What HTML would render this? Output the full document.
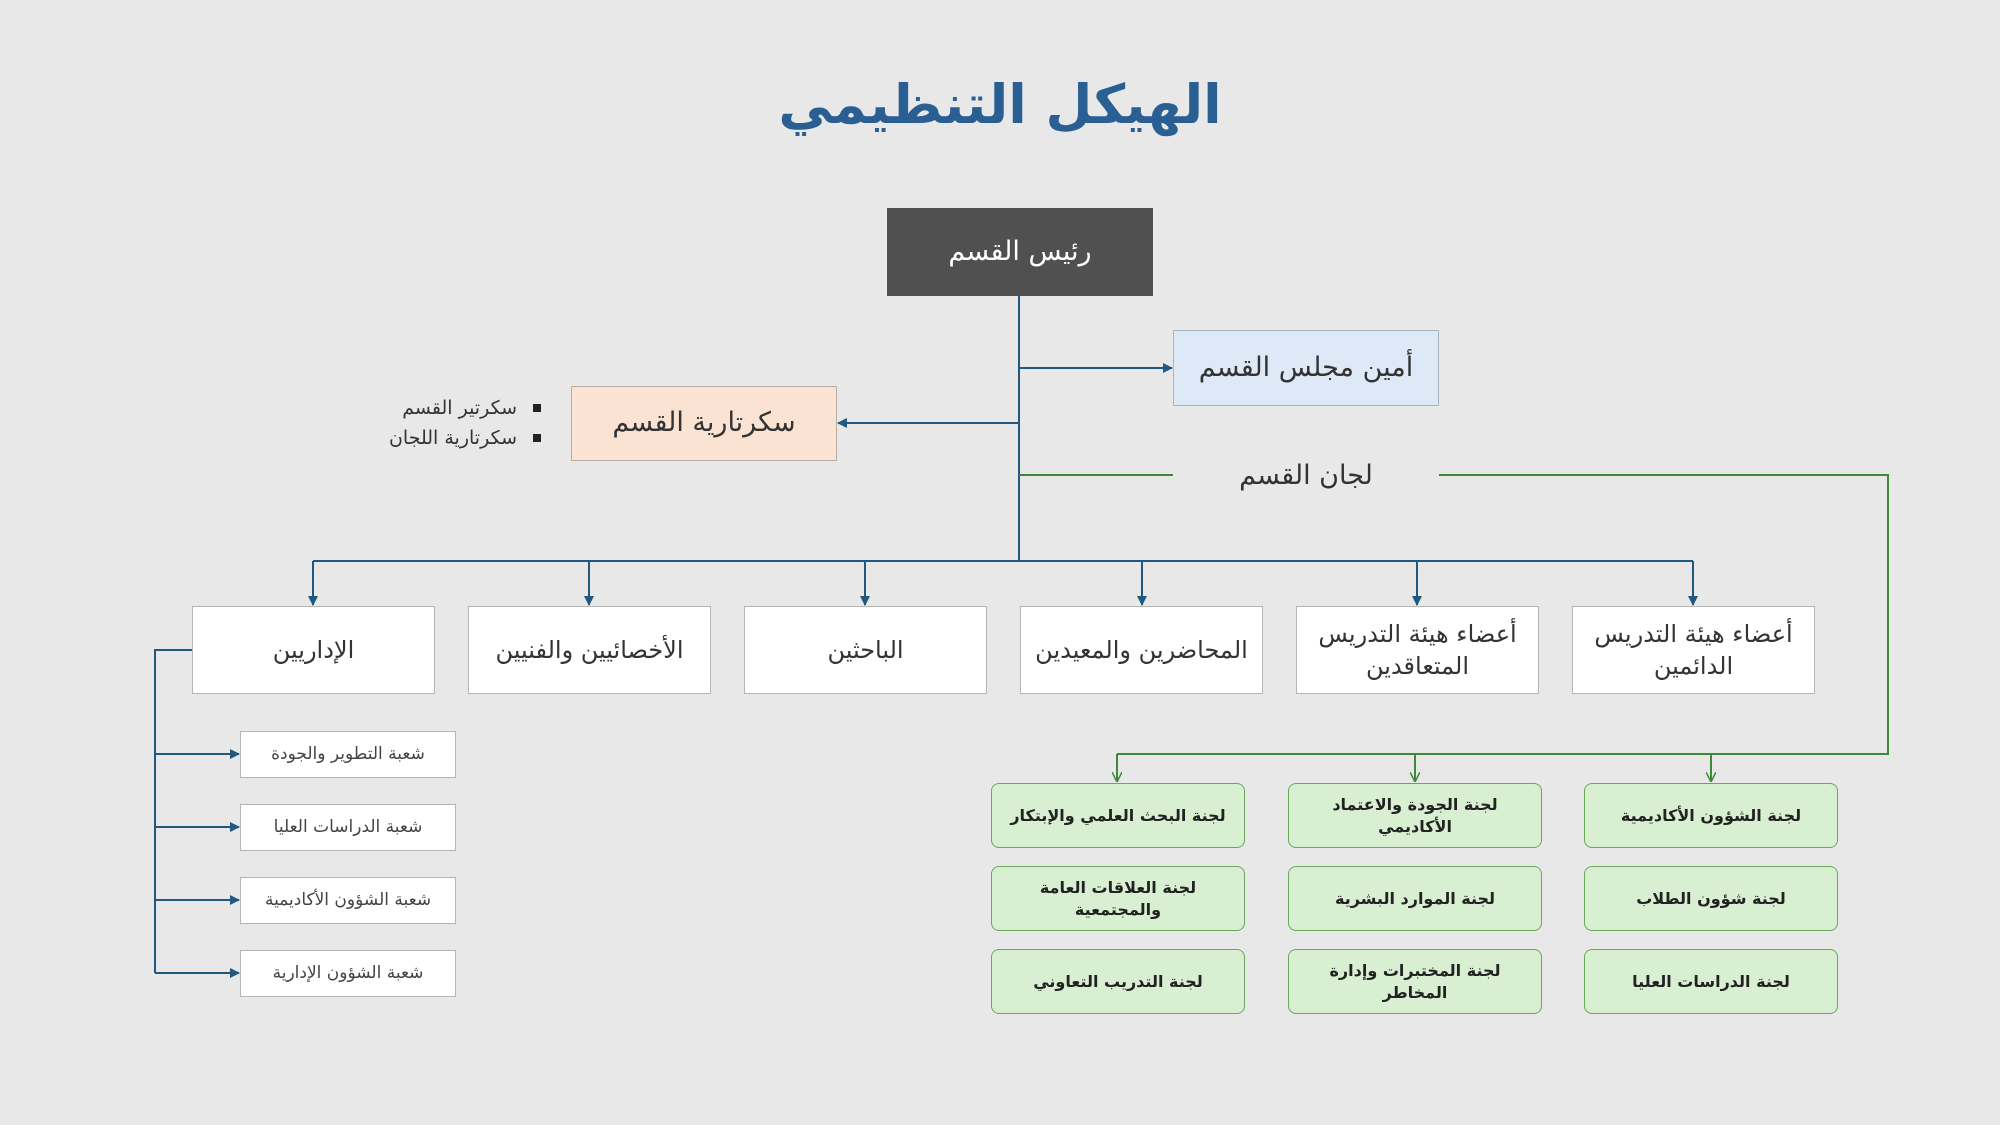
<!DOCTYPE html>
<html><head><meta charset="utf-8">
<style>
body{margin:0;width:2000px;height:1125px;background:#e8e8e8;position:relative;overflow:hidden;font-family:"DejaVu Sans","Liberation Sans",sans-serif;color:#333}
.b{position:absolute;display:flex;align-items:center;justify-content:center;text-align:center;box-sizing:border-box;direction:rtl;line-height:1.35}
.w{background:#fff;border:1.5px solid #b5b5b5;font-size:24px}
.s{background:#fff;border:1.5px solid #b5b5b5;font-size:17px;color:#444}
.g{background:#d9efd2;border:1.5px solid #6aa85a;border-radius:8px;font-size:16px;font-weight:bold;color:#222;padding:0 8px}
svg{position:absolute;left:0;top:0}
</style></head><body>
<div class="b" style="left:0;top:60px;width:2000px;height:90px;font-size:54px;font-weight:bold;color:#2a5f94">الهيكل التنظيمي</div>

<svg width="2000" height="1125">
<defs>
<marker id="ab" markerWidth="10" markerHeight="10" refX="9" refY="5" orient="auto" markerUnits="userSpaceOnUse"><path d="M0,0 L10,5 L0,10z" fill="#22587f"/></marker>
<marker id="ag" markerWidth="10" markerHeight="10" refX="9" refY="5" orient="auto" markerUnits="userSpaceOnUse"><path d="M0,0 L10,5 L0,10" fill="none" stroke="#3f8a3a" stroke-width="1.5"/></marker>
</defs>
<g stroke="#22587f" stroke-width="2" fill="none">
<line x1="1019" y1="296" x2="1019" y2="561"/>
<line x1="1019" y1="368" x2="1172" y2="368" marker-end="url(#ab)"/>
<line x1="1019" y1="423" x2="838" y2="423" marker-end="url(#ab)"/>
<line x1="313" y1="561" x2="1693" y2="561"/>
<line x1="313" y1="561" x2="313" y2="605" marker-end="url(#ab)"/>
<line x1="589" y1="561" x2="589" y2="605" marker-end="url(#ab)"/>
<line x1="865" y1="561" x2="865" y2="605" marker-end="url(#ab)"/>
<line x1="1142" y1="561" x2="1142" y2="605" marker-end="url(#ab)"/>
<line x1="1417" y1="561" x2="1417" y2="605" marker-end="url(#ab)"/>
<line x1="1693" y1="561" x2="1693" y2="605" marker-end="url(#ab)"/>
<polyline points="193,650 155,650 155,973"/>
<line x1="155" y1="754" x2="239" y2="754" marker-end="url(#ab)"/>
<line x1="155" y1="827" x2="239" y2="827" marker-end="url(#ab)"/>
<line x1="155" y1="900" x2="239" y2="900" marker-end="url(#ab)"/>
<line x1="155" y1="973" x2="239" y2="973" marker-end="url(#ab)"/>
</g>
<g stroke="#3f8a3a" stroke-width="2" fill="none">
<line x1="1019" y1="475" x2="1173" y2="475"/>
<polyline points="1439,475 1888,475 1888,754 1117,754"/>
<line x1="1117" y1="754" x2="1117" y2="781" marker-end="url(#ag)"/>
<line x1="1415" y1="754" x2="1415" y2="781" marker-end="url(#ag)"/>
<line x1="1711" y1="754" x2="1711" y2="781" marker-end="url(#ag)"/>
</g>
<rect x="533" y="404" width="8" height="8" fill="#222"/>
<rect x="533" y="434" width="8" height="8" fill="#222"/>
</svg>

<div class="b" style="left:887px;top:208px;width:266px;height:88px;background:#505050;color:#fff;font-size:27px">رئيس القسم</div>
<div class="b" style="left:1173px;top:330px;width:266px;height:76px;background:#dde9f6;border:1.5px solid #a9b4c0;font-size:27px">أمين مجلس القسم</div>
<div class="b" style="left:571px;top:386px;width:266px;height:75px;background:#fbe3d4;border:1.5px solid #b9aca3;font-size:27px">سكرتارية القسم</div>
<div class="b" style="left:300px;top:394px;width:217px;height:30px;justify-content:flex-start;font-size:19px">سكرتير القسم</div>
<div class="b" style="left:300px;top:424px;width:217px;height:30px;justify-content:flex-start;font-size:19px">سكرتارية اللجان</div>
<div class="b" style="left:1173px;top:455px;width:266px;height:42px;font-size:27px">لجان القسم</div>

<div class="b w" style="left:192px;top:606px;width:243px;height:88px">الإداريين</div>
<div class="b w" style="left:468px;top:606px;width:243px;height:88px">الأخصائيين والفنيين</div>
<div class="b w" style="left:744px;top:606px;width:243px;height:88px">الباحثين</div>
<div class="b w" style="left:1020px;top:606px;width:243px;height:88px">المحاضرين والمعيدين</div>
<div class="b w" style="left:1296px;top:606px;width:243px;height:88px">أعضاء هيئة التدريس<br>المتعاقدين</div>
<div class="b w" style="left:1572px;top:606px;width:243px;height:88px">أعضاء هيئة التدريس<br>الدائمين</div>

<div class="b s" style="left:240px;top:731px;width:216px;height:47px">شعبة التطوير والجودة</div>
<div class="b s" style="left:240px;top:804px;width:216px;height:47px">شعبة الدراسات العليا</div>
<div class="b s" style="left:240px;top:877px;width:216px;height:47px">شعبة الشؤون الأكاديمية</div>
<div class="b s" style="left:240px;top:950px;width:216px;height:47px">شعبة الشؤون الإدارية</div>

<div class="b g" style="left:991px;top:783px;width:254px;height:65px;white-space:nowrap">لجنة البحث العلمي والإبتكار</div>
<div class="b g" style="left:991px;top:866px;width:254px;height:65px">لجنة العلاقات العامة والمجتمعية</div>
<div class="b g" style="left:991px;top:949px;width:254px;height:65px">لجنة التدريب التعاوني</div>
<div class="b g" style="left:1288px;top:783px;width:254px;height:65px">لجنة الجودة والاعتماد الأكاديمي</div>
<div class="b g" style="left:1288px;top:866px;width:254px;height:65px">لجنة الموارد البشرية</div>
<div class="b g" style="left:1288px;top:949px;width:254px;height:65px">لجنة المختبرات وإدارة المخاطر</div>
<div class="b g" style="left:1584px;top:783px;width:254px;height:65px">لجنة الشؤون الأكاديمية</div>
<div class="b g" style="left:1584px;top:866px;width:254px;height:65px">لجنة شؤون الطلاب</div>
<div class="b g" style="left:1584px;top:949px;width:254px;height:65px">لجنة الدراسات العليا</div>
</body></html>
